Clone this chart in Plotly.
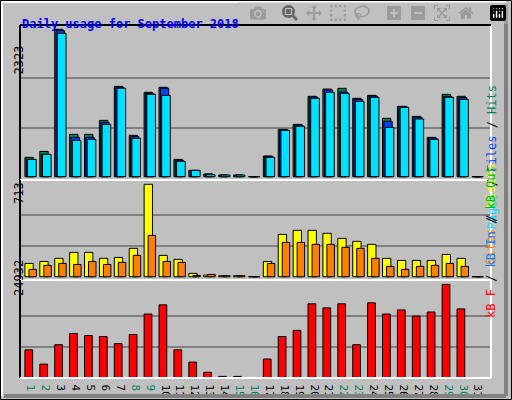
import plotly.graph_objects as go

days = list(range(1, 32))
hits = [305, 399, 2323, 668, 668, 888, 1424, 652, 1330, 1409, 273, 100, 42, 26, 26, 0,
        326, 746, 825, 1267, 1382, 1393, 1235, 1282, 920, 1109, 951, 620, 1298, 1267, 0]
files = [273, 352, 2302, 620, 620, 857, 1409, 631, 1314, 1393, 258, 100, 42, 26, 26, 0,
         321, 741, 815, 1256, 1367, 1335, 1219, 1272, 872, 1104, 936, 610, 1267, 1246, 0]
pages = [273, 352, 2260, 573, 589, 825, 1393, 604, 1298, 1282, 242, 100, 32, 26, 26, 0,
         305, 731, 794, 1235, 1330, 1314, 1188, 1251, 778, 1093, 909, 589, 1251, 1219, 0]
visits = [103, 118, 142, 188, 188, 142, 149, 219, 713, 165, 134, 26, 13, 8, 8, 0,
          118, 327, 358, 358, 335, 296, 273, 250, 142, 126, 126, 126, 172, 142, 0]
sites = [57, 88, 103, 95, 118, 95, 111, 165, 319, 118, 111, 10, 18, 8, 8, 0,
         103, 265, 265, 250, 250, 227, 219, 142, 80, 57, 80, 88, 103, 80, 0]
kbytes = [7462, 3640, 8827, 11830, 11284, 11011, 9100, 11557, 17017, 19474, 7462, 4186, 1456, 364, 364, 0,
          5005, 11011, 12649, 19747, 18655, 19747, 8827, 20020, 17017, 18109, 16471, 17563, 24932, 18382, 0]
weekend = [1, 2, 8, 9, 15, 16, 22, 23, 29, 30]

GREEN = "#00805c"
BLUE = "#0040ff"
CYAN = "#00e0ff"
YELLOW = "#ffff00"
ORANGE = "#ff8000"
RED = "#ff0000"


def px_x(p):
    return (p - 20) / 471


def px_y(p):
    return (378 - p) / 353


fig = go.Figure()
line = dict(color="black", width=1)


def add(vals, color, off, w, ax):
    fig.add_trace(go.Bar(x=days, y=vals, offset=off, width=w, marker=dict(color=color, line=line),
                         xaxis="x", yaxis=ax, showlegend=False))


add(hits, GREEN, -0.54, 0.56, "y")
add(files, BLUE, -0.45, 0.56, "y")
add(pages, CYAN, -0.36, 0.58, "y")
add(visits, YELLOW, -0.54, 0.56, "y2")
add(sites, ORANGE, -0.27, 0.5, "y2")
add(kbytes, RED, -0.54, 0.52, "y3")

ticktext = [f"<span style='color:{GREEN if d in weekend else 'black'}'>{d}</span>" for d in days]
grid = dict(showticklabels=False, showgrid=True, gridcolor="#808080", gridwidth=1.5,
            zeroline=False, ticks="")
fig.update_layout(
    width=512, height=400, margin=dict(l=20, r=21, t=25, b=22),
    paper_bgcolor="#c0c0c0", plot_bgcolor="#c0c0c0", barmode="overlay",
    font=dict(family="DejaVu Sans Mono", size=11, color="black"),
    xaxis=dict(range=[0.13, 31.74], tickvals=days, ticktext=ticktext, showgrid=False, anchor="y3",
               automargin=False, zeroline=False, ticks="", tickfont=dict(size=11)),
    yaxis=dict(domain=[px_y(180), 1], range=[-52, 2391], tickvals=[2323 / 3, 2323 * 2 / 3], **grid),
    yaxis2=dict(domain=[px_y(280), px_y(180)], range=[-25, 746], tickvals=[713 / 3, 713 * 2 / 3], **grid),
    yaxis3=dict(domain=[0, px_y(280)], range=[-63, 26105], tickvals=[24932 / 3, 24932 * 2 / 3], **grid),
)

# panel frames
shapes = []
for top, bot in [(25, 180), (180, 280), (280, 378)]:
    shapes.append(dict(type="line", xref="paper", yref="paper", x0=0, x1=0, y0=px_y(bot), y1=px_y(top), line=dict(color="black", width=2)))
    shapes.append(dict(type="line", xref="paper", yref="paper", x0=1, x1=1, y0=px_y(bot), y1=px_y(top), line=dict(color="white", width=2)))
    shapes.append(dict(type="line", xref="paper", yref="paper", x0=0, x1=1, y0=px_y(bot), y1=px_y(bot), line=dict(color="white", width=2)))
shapes.append(dict(type="line", xref="paper", yref="paper", x0=0, x1=1, y0=1, y1=1, line=dict(color="black", width=2)))
# outer bevel
shapes.append(dict(type="line", xref="paper", yref="paper", x0=px_x(506), x1=px_x(506), y0=px_y(396), y1=px_y(4), line=dict(color="#808080", width=4)))
shapes.append(dict(type="line", xref="paper", yref="paper", x0=px_x(4), x1=px_x(506), y0=px_y(396), y1=px_y(396), line=dict(color="#808080", width=4)))
shapes.append(dict(type="rect", xref="paper", yref="paper", x0=px_x(0.5), x1=px_x(511.5), y0=px_y(399.5), y1=px_y(0.5), line=dict(color="black", width=1)))
shapes.append(dict(type="line", xref="paper", yref="paper", x0=px_x(2), x1=px_x(2), y0=px_y(396), y1=px_y(2), line=dict(color="white", width=2)))
shapes.append(dict(type="line", xref="paper", yref="paper", x0=px_x(2), x1=px_x(506), y0=px_y(2), y1=px_y(2), line=dict(color="white", width=2)))
fig.update_layout(shapes=shapes)

ann = [
    dict(text="<b>Daily usage for September 2018</b>", x=px_x(20), y=px_y(15), xanchor="left",
         font=dict(color="#0000ff", size=12)),
    dict(text="2323", x=px_x(10), y=px_y(44), textangle=-90, font=dict(size=12)),
    dict(text="713", x=px_x(10), y=px_y(193), textangle=-90, font=dict(size=12)),
    dict(text="24932", x=px_x(10), y=px_y(298), textangle=-90, font=dict(size=12)),
    dict(text=f"<span style='color:{CYAN}'>Pages</span> / <span style='color:{BLUE}'>Files</span> / "
              f"<span style='color:{GREEN}'>Hits</span>",
         x=px_x(500), y=px_y(83), textangle=-90, font=dict(size=12)),
    dict(text=f"<span style='color:{ORANGE}'>Sites</span> / <span style='color:{YELLOW}'>Visits</span>",
         x=px_x(500), y=px_y(215), textangle=-90, font=dict(size=12)),
    dict(text=f"<span style='color:{RED}'>kB F</span> / <span style='color:#0080ff'>kB In</span> / "
              f"<span style='color:#00c000'>kB Out</span>",
         x=px_x(500), y=px_y(320), textangle=-90, font=dict(size=12)),
]
for a in ann:
    a.update(xref="paper", yref="paper", showarrow=False)
fig.update_layout(annotations=ann)

fig.write_html("out.html", post_script="document.body.style.margin='0';")
